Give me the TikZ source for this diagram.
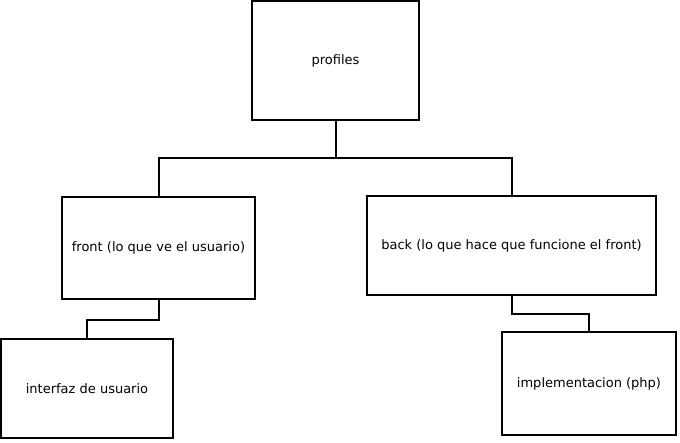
\documentclass[tikz,border=0pt]{standalone}
\usepackage{fontspec}
\setmainfont{DejaVu Sans}
\usetikzlibrary{positioning, calc}

\begin{document}
\begin{tikzpicture}[x=1pt, y=-1pt, line width=2pt]
        \tikzset{
            treebox/.style={draw, rectangle, inner sep=0pt, font=\fontsize{13}{15}\selectfont},
            branch/.style={draw, line width=2pt}
        }
        \useasboundingbox (0,0) rectangle (680,442);

        % Boxes
        \node[treebox, minimum width=167pt, minimum height=119pt] (profiles) at (335.5,60.5) {profiles};
        \node[treebox, minimum width=193pt, minimum height=102pt] (front) at (158.5,248) {front (lo que ve el usuario)};
        \node[treebox, minimum width=289pt, minimum height=99pt] (back) at (511.5,245.5) {back (lo que hace que funcione el front)};
        \node[treebox, minimum width=172pt, minimum height=99pt] (interfaz) at (87,388.5) {interfaz de usuario};
        \node[treebox, minimum width=174pt, minimum height=103pt] (impl) at (589,383.5) {implementacion (php)};

        % Connections
        \coordinate (split) at ($(profiles.south)+(0,37)$);
        \draw[branch] (profiles.south) -- (split);
        \draw[branch] (front.north) |- (split) -| (back.north);
        \draw[branch] (front.south) -- ++(0,20) -| (interfaz.north);
        \draw[branch] (back.south) -- ++(0,18) -| (impl.north);
    \end{tikzpicture}
\end{document}
